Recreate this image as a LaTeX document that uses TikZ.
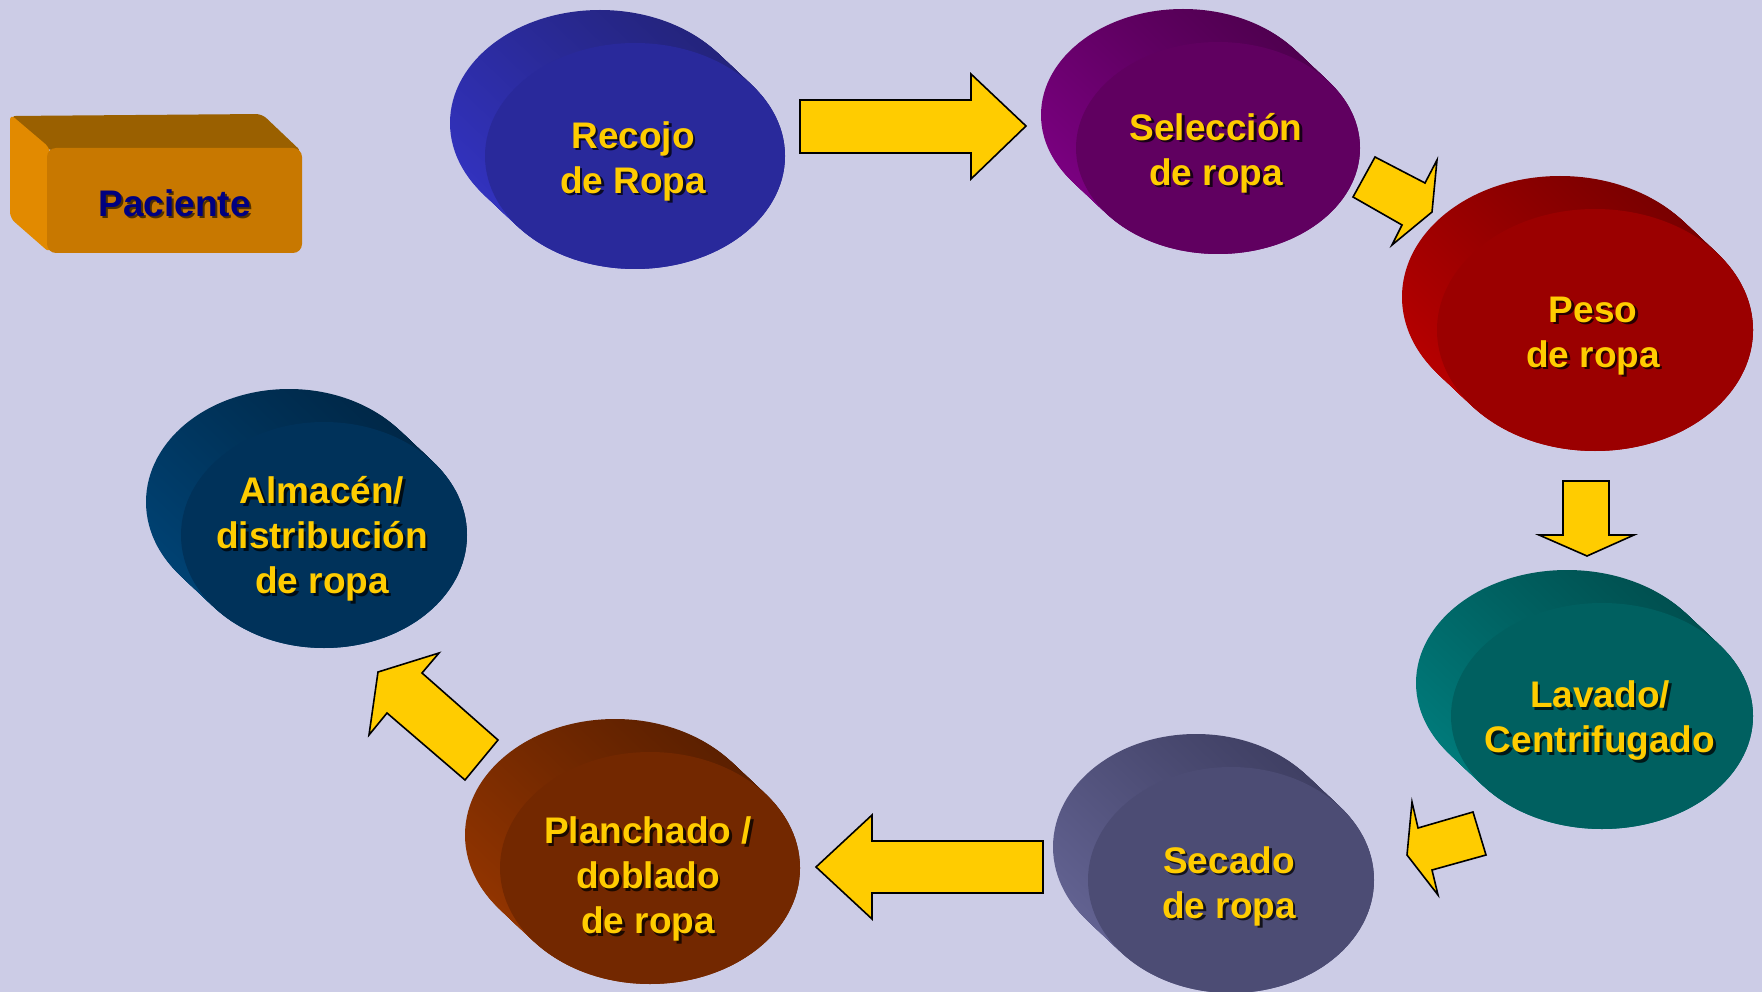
\documentclass[tikz,border=0pt]{standalone}
\usepackage{fontspec}
\setmainfont{Liberation Sans}
\usetikzlibrary{shapes.geometric}
\definecolor{bg}{RGB}{204,204,230}
\definecolor{ayellow}{RGB}{255,204,0}
\definecolor{tyellow}{RGB}{255,204,0}
\definecolor{navytext}{RGB}{0,0,128}
\definecolor{boxfront}{RGB}{200,120,0}
\definecolor{boxtop}{RGB}{154,96,0}
\definecolor{boxside}{RGB}{226,138,0}
\definecolor{recF}{RGB}{41,41,155}\definecolor{recB}{RGB}{50,50,190}\definecolor{recD}{RGB}{36,36,125}
\definecolor{selF}{RGB}{96,0,96}\definecolor{selB}{RGB}{122,0,128}\definecolor{selD}{RGB}{80,0,80}
\definecolor{pesF}{RGB}{155,0,0}\definecolor{pesB}{RGB}{182,0,0}\definecolor{pesD}{RGB}{122,0,0}
\definecolor{lavF}{RGB}{0,96,96}\definecolor{lavB}{RGB}{0,122,122}\definecolor{lavD}{RGB}{0,80,80}
\definecolor{secF}{RGB}{76,76,116}\definecolor{secB}{RGB}{98,98,145}\definecolor{secD}{RGB}{64,64,100}
\definecolor{plaF}{RGB}{115,40,0}\definecolor{plaB}{RGB}{145,52,0}\definecolor{plaD}{RGB}{92,32,0}
\definecolor{almF}{RGB}{0,50,90}\definecolor{almB}{RGB}{0,66,115}\definecolor{almD}{RGB}{0,40,72}
\tikzset{
  yarrow/.style={fill=ayellow, draw=black, line width=1.6pt, line join=miter},
  lbl/.style={text=tyellow, font=\fontsize{37}{45}\selectfont\bfseries, align=center, inner sep=0pt},
  shd/.style={text=black, opacity=0.75, font=\fontsize{37}{45}\selectfont\bfseries, align=center, inner sep=0pt},
  disc/.style={ellipse, inner sep=0pt, draw=none},
}
% name, cx, cy, rx, ry, colour prefix, text, text dy
\newcommand\mydisc[8]{%
  \foreach \k in {0,...,30}{%
    \shade[top color=#6D, bottom color=#6B, shading angle=-40]
      ({#2-35+35*\k/30},{#3-33+33*\k/30}) ellipse ({#4} and {#5});
  }
  \node[disc, fill=#6F, minimum width={2*#4}, minimum height={2*#5}] (#1) at (#2,#3) {};
  \node[shd] (#1-s) at ({#2-2+2.5},{#3+#8+2.5}) {#7};
  \node[lbl] (#1-t) at ({#2-2},{#3+#8}) {#7};
}
\begin{document}
\begin{tikzpicture}[x=1pt,y=-1pt]
\useasboundingbox (0,0) rectangle (1762,992);
\fill[bg] (0,0) rectangle (1762,992);

% Paciente box
\fill[boxtop, rounded corners=6pt] (47,150) -- (10,116) -- (262,114) -- (302,152) -- cycle;
\fill[boxside, rounded corners=6pt] (10,114) -- (50,148) -- (50,253) -- (10,218) -- cycle;
\node[rectangle, rounded corners=9pt, fill=boxfront, minimum width=255pt, minimum height=105pt, inner sep=0pt] (paciente) at (174.5,200.5) {};
\node[text=black, opacity=0.6, font=\fontsize{37}{45}\selectfont\bfseries, inner sep=0pt] (paciente-s) at (176.5,205.5) {Paciente};
\node[text=navytext, font=\fontsize{37}{45}\selectfont\bfseries, inner sep=0pt] (paciente-t) at (174.5,203.5) {Paciente};

% discs
\mydisc{recojo}{635}{156}{150}{113}{rec}{Recojo\\de Ropa}{5}
\mydisc{seleccion}{1218}{148}{142}{106}{sel}{Selección\\de ropa}{5}
\mydisc{peso}{1595}{330}{158}{121}{pes}{Peso\\de ropa}{6}
\mydisc{lavado}{1602}{716}{151}{113}{lav}{Lavado/\\Centrifugado}{5}
\mydisc{secado}{1231}{880}{143}{113}{sec}{Secado\\de ropa}{6}
\mydisc{planchado}{650}{868}{150}{116}{pla}{Planchado /\\doblado\\de ropa}{11}
\mydisc{almacen}{324}{535}{143}{113}{alm}{Almacén/\\distribución\\de ropa}{4}

% arrows
\draw[yarrow] (800,100) -- (971,100) -- (971,74) -- (1026,126) -- (971,179) -- (971,153) -- (800,153) -- cycle;
\draw[yarrow] (1375,157) -- (1425,183) -- (1437,160) -- (1432,212) -- (1392,245) -- (1402,225) -- (1353,197) -- cycle;
\draw[yarrow] (1563,481) -- (1609,481) -- (1609,535) -- (1634,535) -- (1587,556) -- (1539,535) -- (1563,535) -- cycle;
\draw[yarrow] (1418,828) -- (1473,812) -- (1486,855) -- (1432,870) -- (1438,895) -- (1407,855) -- (1412,802) -- cycle;
\draw[yarrow] (1043,841) -- (1043,893) -- (872,893) -- (872,919) -- (816,867) -- (872,815) -- (872,841) -- cycle;
\draw[yarrow] (378,672) -- (439,653) -- (422,673) -- (498,740) -- (465,780) -- (387,713) -- (369,735) -- cycle;
\end{tikzpicture}
\end{document}
